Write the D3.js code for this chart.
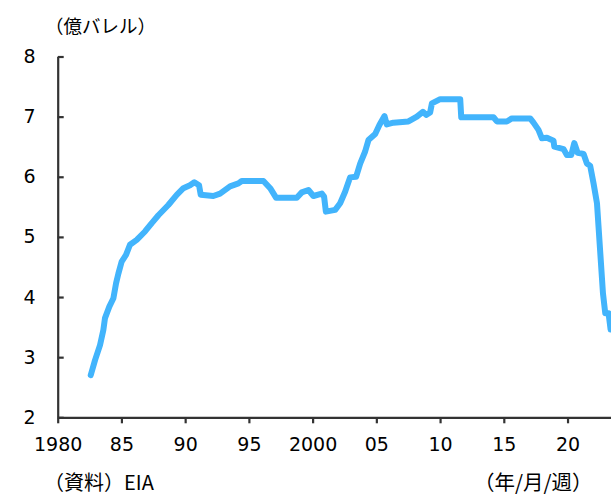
<!DOCTYPE html>
<html>
<head>
<meta charset="utf-8">
<script src="https://cdn.jsdelivr.net/npm/d3@7/dist/d3.min.js"></script>
<style>
html,body{margin:0;padding:0;background:#fff;}
svg{display:block;}
</style>
</head>
<body>
<svg id="chart" width="611" height="497"></svg>
<script>
// Data: US Strategic Petroleum Reserve, 100 million barrels
const years = [1982.59,1982.93,1983.32,1983.58,1983.71,1984.05,1984.37,1984.58,1984.76,1985.02,1985.36,1985.67,1986.2,1986.85,1987.38,1987.9,1988.68,1989.34,1989.86,1990.38,1990.72,1991.09,1991.22,1992.21,1992.74,1993.52,1994.18,1994.44,1996.14,1996.67,1997.14,1998.76,1999.15,1999.67,2000.06,2000.72,2000.9,2001.04,2001.77,2002.16,2002.55,2002.94,2003.41,2003.73,2004.12,2004.38,2004.91,2005.24,2005.64,2005.82,2006.34,2007.52,2008.18,2008.65,2008.91,2009.22,2009.36,2010.01,2011.58,2011.66,2014.19,2014.46,2015.24,2015.63,2017.07,2017.33,2017.72,2017.99,2018.38,2018.9,2018.96,2019.69,2019.95,2020.29,2020.53,2020.79,2021.26,2021.52,2021.78,2022.04,2022.31,2022.57,2022.78,2022.96,2023.22,2023.38];
const stocks = [2.70,2.95,3.20,3.45,3.65,3.84,3.98,4.23,4.39,4.59,4.70,4.87,4.95,5.09,5.23,5.36,5.53,5.70,5.81,5.86,5.91,5.86,5.70,5.68,5.72,5.84,5.89,5.93,5.93,5.81,5.65,5.65,5.74,5.78,5.68,5.72,5.67,5.42,5.45,5.56,5.75,5.99,6.00,6.22,6.42,6.61,6.71,6.86,7.01,6.87,6.90,6.92,7.00,7.08,7.03,7.07,7.22,7.29,7.29,6.99,6.99,6.92,6.92,6.97,6.97,6.90,6.78,6.64,6.65,6.60,6.50,6.46,6.36,6.36,6.56,6.40,6.38,6.22,6.18,5.89,5.56,4.73,4.06,3.73,3.73,3.46];
const xTickValues = [1980,1985,1990,1995,2000,2005,2010,2015,2020];
const xTickLabels = ["1980","85","90","95","2000","05","10","15","20"];
const yTickValues = [2,3,4,5,6,7,8];
const unitLabel = "（億バレル）";
const sourceLabel = "（資料）EIA";
const periodLabel = "（年/月/週）";

const svg = d3.select("#chart");
const mLeft = 57.7, mRight = 611, mTop = 56.5, mBottom = 417.3;
const x = d3.scaleLinear().domain([1980, 2023.41]).range([mLeft, mRight]);
const y = d3.scaleLinear().domain([2, 8]).range([mBottom, mTop]);

const numFont = "DejaVu Sans, Verdana, sans-serif";
const jpFont = "'Noto Sans CJK JP', sans-serif";
const axisColor = "#333333";

svg.append("defs").append("clipPath").attr("id","clip")
  .append("rect").attr("x", mLeft).attr("y", 0).attr("width", mRight-mLeft).attr("height", mBottom);

// line
const data = years.map((d,i)=>({x:d, y:stocks[i]}));
svg.append("path")
  .datum(data)
  .attr("clip-path","url(#clip)")
  .attr("fill","none")
  .attr("stroke","#42b4fc")
  .attr("stroke-width",6)
  .attr("stroke-linejoin","round")
  .attr("stroke-linecap","round")
  .attr("d", d3.line().x(d=>x(d.x)).y(d=>y(d.y)));

// x axis
const xAxis = d3.axisBottom(x).tickValues(xTickValues)
  .tickFormat((d,i)=>xTickLabels[i]).tickSizeInner(6).tickSizeOuter(0).tickPadding(14);
const gx = svg.append("g").attr("transform",`translate(0,${mBottom})`).call(xAxis);
gx.select(".domain").attr("stroke",axisColor).attr("stroke-width",2.2);
gx.selectAll(".tick line").attr("stroke",axisColor).attr("stroke-width",2.2);
gx.selectAll(".tick text").attr("fill","#000").style("font-family",numFont).style("font-size","19px");

// y axis (ticks pointing inward)
const yAxis = d3.axisLeft(y).tickValues(yTickValues).tickFormat(d3.format("d"))
  .tickSizeInner(-6).tickSizeOuter(0).tickPadding(22);
const gy = svg.append("g").attr("transform",`translate(${mLeft},0)`).call(yAxis);
gy.select(".domain").attr("stroke",axisColor).attr("stroke-width",2.2);
gy.selectAll(".tick line").attr("stroke",axisColor).attr("stroke-width",2.2);
gy.selectAll(".tick text").attr("fill","#000").style("font-family",numFont).style("font-size","19px");

// labels
svg.append("text").attr("x",45).attr("y",33).text(unitLabel)
  .style("font-family",jpFont).style("font-size","18.5px").attr("fill","#000");
svg.append("text").attr("x",44).attr("y",490).text(sourceLabel)
  .style("font-family",jpFont).style("font-size","20px").attr("fill","#000");
svg.append("text").attr("x",474).attr("y",490).text(periodLabel)
  .style("font-family",jpFont).style("font-size","20.5px").attr("fill","#000");
</script>
</body>
</html>
